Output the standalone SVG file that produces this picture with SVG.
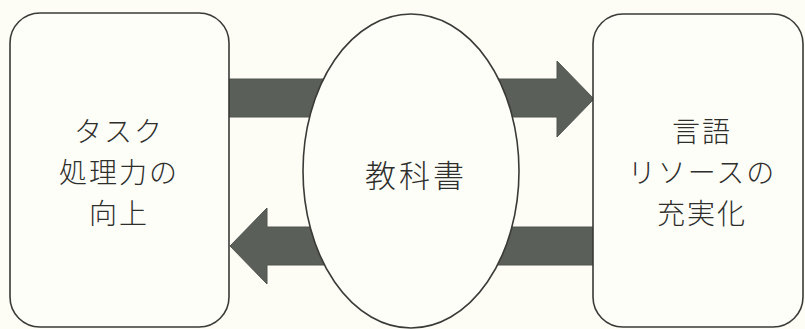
<svg xmlns="http://www.w3.org/2000/svg" width="805" height="329" viewBox="0 0 805 329">
  <style>
    .box { fill: #fefef8; stroke: #3a3a38; stroke-width: 1.6; }
    .arrow { fill: #5b5f59; stroke: #50544e; stroke-width: 1; }
    .label { font-family: "Noto Sans CJK JP", "Noto Sans CJK SC", sans-serif; font-size: 28px; font-weight: 300; fill: #2e2e2c; text-anchor: middle; letter-spacing: 2px; }
    .big { font-size: 31px; letter-spacing: 3px; }
  </style>
  <rect x="0" y="0" width="805" height="329" fill="#fdfdf5"/>
  <g id="connectors">
    <polygon class="arrow" points="229,79 557,79 557,61 594,99 557,137 557,117 229,117"/>
    <polygon class="arrow" points="593,227 267,227 267,208 230,246 267,284 267,265 593,265"/>
  </g>
  <g id="node-task">
    <rect class="box" x="10" y="13" width="219" height="314" rx="30" ry="30"/>
    <text class="label" x="119" y="142">タスク</text>
    <text class="label" x="119" y="183">処理力の</text>
    <text class="label" x="119" y="224">向上</text>
  </g>
  <g id="node-textbook">
    <ellipse class="box" cx="411" cy="171" rx="108" ry="157"/>
    <text class="label big" x="416" y="187">教科書</text>
  </g>
  <g id="node-resource">
    <rect class="box" x="593" y="14" width="210" height="313" rx="30" ry="30"/>
    <text class="label" x="702" y="142">言語</text>
    <text class="label" x="702" y="183">リソースの</text>
    <text class="label" x="702" y="224">充実化</text>
  </g>
</svg>
